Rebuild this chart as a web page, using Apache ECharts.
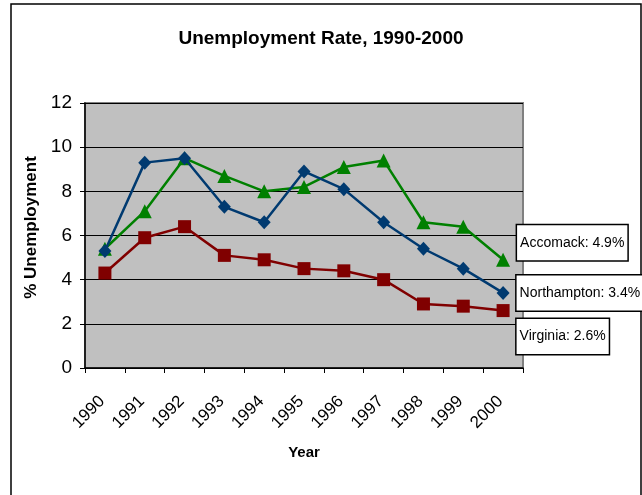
<!DOCTYPE html>
<html>
<head>
<meta charset="utf-8">
<script src="https://cdn.jsdelivr.net/npm/echarts@6/dist/echarts.min.js"></script>
<style>
html,body{margin:0;padding:0;background:#fff;}
#chart{width:642px;height:495px;}
</style>
</head>
<body>
<div id="chart"></div>
<script>
const years = ['1990','1991','1992','1993','1994','1995','1996','1997','1998','1999','2000'];
const northampton = [5.3, 9.3, 9.5, 7.3, 6.6, 8.9, 8.1, 6.6, 5.4, 4.5, 3.4];
const accomack = [5.4, 7.1, 9.5, 8.7, 8.0, 8.2, 9.1, 9.4, 6.6, 6.4, 4.9];
const virginia = [4.3, 5.9, 6.4, 5.1, 4.9, 4.5, 4.4, 4.0, 2.9, 2.8, 2.6];
const yTicks = [0, 2, 4, 6, 8, 10, 12];

const FONT = 'Liberation Sans, Arial, sans-serif';

function withEndLabel(values, name, dy) {
  return values.map((v, i) => {
    if (i !== values.length - 1) return v;
    return {
      value: v,
      label: {
        show: true,
        position: 'right',
        distance: 7,
        offset: [0, dy],
        formatter: name + ': ' + v.toFixed(1) + '%',
        color: '#000',
        fontFamily: FONT,
        fontSize: 14,
        backgroundColor: '#fff',
        borderColor: '#000',
        borderWidth: 1.5,
        padding: [11, 3, 10, 3]
      }
    };
  });
}

const chart = echarts.init(document.getElementById('chart'), null, {renderer: 'canvas'});
chart.setOption({
  animation: false,
  backgroundColor: '#fff',
  graphic: [{
    type: 'rect',
    shape: {x: 11, y: 4, width: 630, height: 495},
    style: {fill: 'none', stroke: '#000', lineWidth: 1.5},
    z: 0
  }],
  title: {
    text: 'Unemployment Rate, 1990-2000',
    left: 'center',
    top: 24,
    textStyle: {fontFamily: FONT, fontSize: 19, fontWeight: 'bold', color: '#000'}
  },
  grid: {
    left: 85, right: 119, top: 103, bottom: 127,
    show: true,
    backgroundColor: '#c0c0c0',
    borderColor: '#808080',
    borderWidth: 2
  },
  xAxis: {
    type: 'category',
    data: years,
    boundaryGap: true,
    name: 'Year',
    nameLocation: 'middle',
    nameGap: 77,
    nameTextStyle: {fontFamily: FONT, fontSize: 15, fontWeight: 'bold', color: '#000'},
    axisLine: {show: true, lineStyle: {color: '#000', width: 1.5}},
    axisTick: {show: true, length: 5, lineStyle: {color: '#000'}},
    axisLabel: {
      rotate: 45,
      margin: 28,
      padding: [0, 4, 0, 0],
      fontFamily: FONT,
      fontSize: 17,
      color: '#000',
      interval: 0
    },
    splitLine: {show: false}
  },
  yAxis: {
    type: 'value',
    min: 0,
    max: 12,
    interval: 2,
    name: '% Unemployment',
    nameLocation: 'middle',
    nameGap: 41,
    nameRotate: 90,
    nameTextStyle: {fontFamily: FONT, fontSize: 17, fontWeight: 'bold', color: '#000', padding: [0, 0, 0, 16]},
    axisLine: {show: true, lineStyle: {color: '#000', width: 1.5}},
    axisTick: {show: true, length: 5, lineStyle: {color: '#000'}},
    axisLabel: {
      margin: 13,
      fontFamily: FONT,
      fontSize: 19,
      color: '#000',
      formatter: v => yTicks.includes(v) ? String(v) : ''
    },
    splitLine: {show: true, lineStyle: {color: '#000', width: 1}}
  },
  series: [
    {
      name: 'Virginia',
      type: 'line',
      data: withEndLabel(virginia, 'Virginia', 26),
      symbol: 'rect',
      symbolSize: 13,
      lineStyle: {color: '#800000', width: 2.5},
      itemStyle: {color: '#800000'},
      z: 2
    },
    {
      name: 'Accomack',
      type: 'line',
      data: withEndLabel(accomack, 'Accomack', -17),
      symbol: 'triangle',
      symbolSize: 14,
      lineStyle: {color: '#008000', width: 2.5},
      itemStyle: {color: '#008000'},
      z: 3
    },
    {
      name: 'Northampton',
      type: 'line',
      data: withEndLabel(northampton, 'Northampton', 0),
      symbol: 'diamond',
      symbolSize: [13, 14],
      lineStyle: {color: '#003a70', width: 2.5},
      itemStyle: {color: '#003a70'},
      z: 4
    }
  ]
});
</script>
</body>
</html>
